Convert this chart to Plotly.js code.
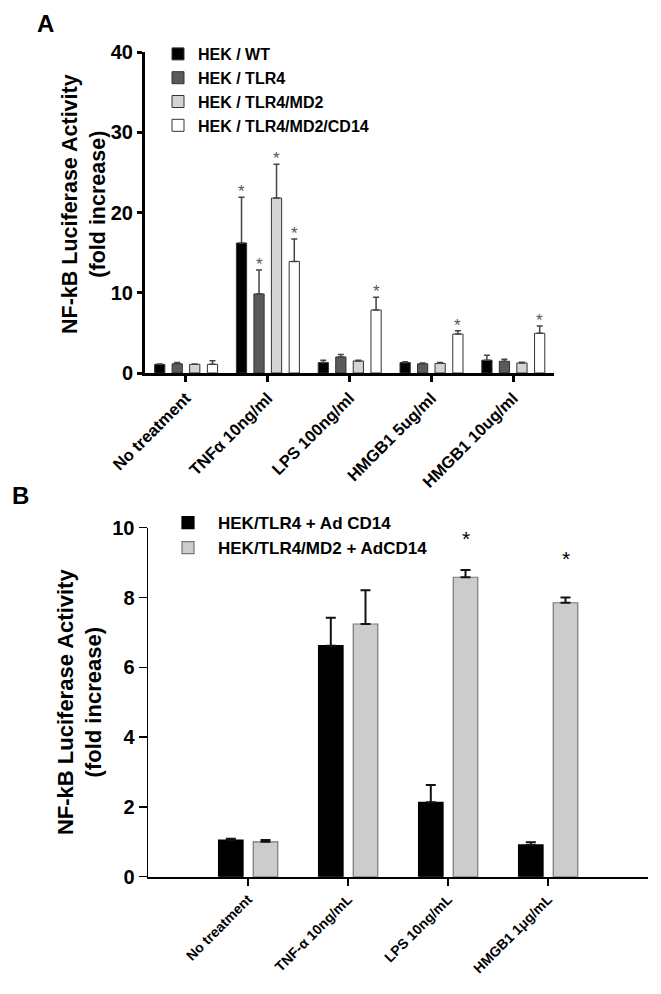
<!DOCTYPE html>
<html>
<head>
<meta charset="utf-8">
<script src="https://cdn.plot.ly/plotly-3.0.1.min.js"></script>
<style>
  html, body { margin: 0; padding: 0; background: #fff; }
  #chart { width: 661px; height: 994px; }
</style>
</head>
<body>
<div id="chart"></div>
<script>
// panel A
const catsA = ["No treatment", "TNFα 10ng/ml", "LPS 100ng/ml", "HMGB1 5ug/ml", "HMGB1 10ug/ml"];
const namesA = ["HEK / WT", "HEK / TLR4", "HEK / TLR4/MD2", "HEK / TLR4/MD2/CD14"];
const wt = [1.08, 16.2, 1.3, 1.3, 1.6];
const wtErr = [0.05, 5.7, 0.3, 0.1, 0.6];
const tlr4 = [1.15, 9.85, 2.0, 1.15, 1.45];
const tlr4Err = [0.15, 3.0, 0.3, 0.1, 0.25];
const md2 = [1.08, 21.8, 1.5, 1.2, 1.25];
const md2Err = [0.05, 4.2, 0.1, 0.1, 0.1];
const cd14 = [1.08, 13.9, 7.85, 4.85, 4.95];
const cd14Err = [0.45, 2.8, 1.6, 0.4, 0.9];
const starsA = [
  [0, 1, 0, 0, 0],
  [0, 1, 0, 0, 0],
  [0, 1, 0, 0, 0],
  [0, 1, 1, 1, 1],
];

// panel B
const catsB = ["No treatment", "TNF-α 10ng/mL", "LPS 10ng/mL", "HMGB1 1μg/mL"];
const namesB = ["HEK/TLR4 + Ad CD14", "HEK/TLR4/MD2 + AdCD14"];
const adCd14 = [1.05, 6.62, 2.13, 0.91];
const adCd14Err = [0.04, 0.8, 0.5, 0.08];
const md2Cd14 = [1.0, 7.24, 8.58, 7.85];
const md2Cd14Err = [0.05, 0.97, 0.21, 0.15];
const starB = [null, null, 9.82, 9.27];

const yTitle = "NF-kB Luciferase Activity<br>(fold increase)";
const FONT = "Liberation Sans, Arial, sans-serif";

const fillA = ["#000000", "#5a5a5a", "#d4d4d4", "#ffffff"];
const centersA = [-0.32, -0.106, 0.108, 0.325];
const widthA = 0.125;
const valsA = [wt, tlr4, md2, cd14];
const errsA = [wtErr, tlr4Err, md2Err, cd14Err];

const traces = [];
const annotations = [];

valsA.forEach((vals, k) => {
  traces.push({
    type: "bar",
    x: catsA,
    y: vals,
    name: namesA[k],
    width: widthA,
    offset: centersA[k] - widthA / 2,
    marker: { color: fillA[k], line: { color: "#333", width: 1 } },
    error_y: {
      type: "data", symmetric: false, array: errsA[k], arrayminus: vals.map(() => 0),
      color: "#444", thickness: 1.5, width: 3,
    },
    xaxis: "x", yaxis: "y",
    legend: "legend",
  });
  starsA[k].forEach((s, i) => {
    if (!s) return;
    annotations.push({
      xref: "x", yref: "y", x: i + centersA[k], y: vals[i] + errsA[k][i],
      text: "*", showarrow: false, yanchor: "bottom", yshift: -6,
      font: { family: FONT, size: 17, color: "#555" },
    });
  });
});

const fillB = ["#000000", "#cccccc"];
const centersB = [-0.172, 0.175];
const widthB = 0.245;
const valsB = [adCd14, md2Cd14];
const errsB = [adCd14Err, md2Cd14Err];

valsB.forEach((vals, k) => {
  traces.push({
    type: "bar",
    x: catsB,
    y: vals,
    name: namesB[k],
    width: widthB,
    offset: centersB[k] - widthB / 2,
    marker: { color: fillB[k], line: { color: k ? "#777" : "#000", width: 1.2 } },
    error_y: {
      type: "data", symmetric: false, array: errsB[k], arrayminus: vals.map(() => 0),
      color: "#111", thickness: 2, width: 5,
    },
    xaxis: "x2", yaxis: "y2",
    legend: "legend2",
  });
});

starB.forEach((y, i) => {
  if (y == null) return;
  annotations.push({
    xref: "x2", yref: "y2", x: i + centersB[1], y: y,
    text: "*", showarrow: false, yanchor: "middle", yshift: -5,
    font: { family: FONT, size: 21, color: "#000" },
  });
});

const bold = (size) => ({ family: FONT, size: size, weight: "bold", color: "#000" });

annotations.push(
  { xref: "paper", yref: "paper", x: 35 / 661, y: 1 - 8 / 994, xanchor: "left", yanchor: "top",
    text: "A", showarrow: false, font: bold(24) },
  { xref: "paper", yref: "paper", x: 10 / 661, y: 1 - 480 / 994, xanchor: "left", yanchor: "top",
    text: "B", showarrow: false, font: bold(24) },
  // panel A y title sits tight against its tick labels
  { xref: "paper", yref: "paper", x: 84 / 661, y: 1 - 204 / 994, xanchor: "center", yanchor: "middle",
    text: yTitle, textangle: -90, showarrow: false, font: bold(21.5) }
);

const layout = {
  width: 661,
  height: 994,
  margin: { l: 0, r: 0, t: 0, b: 0 },
  paper_bgcolor: "#fff",
  plot_bgcolor: "rgba(0,0,0,0)",
  barmode: "group",
  font: { family: FONT, color: "#000" },
  xaxis: {
    domain: [145 / 661, 554 / 661],
    anchor: "y",
    type: "category",
    range: [-0.5, 4.5],
    showline: true, linecolor: "#000", linewidth: 3,
    ticks: "outside", ticklen: 6, tickwidth: 3, tickcolor: "#000",
    tickangle: -45, tickfont: bold(16.5),
    showgrid: false, zeroline: false,
  },
  yaxis: {
    domain: [1 - 373 / 994, 1 - 52 / 994],
    anchor: "x",
    range: [0, 40],
    tickvals: [0, 10, 20, 30, 40],
    showline: true, linecolor: "#000", linewidth: 3,
    ticks: "outside", ticklen: 5, tickwidth: 3, tickcolor: "#000",
    tickfont: bold(20),
    showgrid: false, zeroline: false,
  },
  xaxis2: {
    domain: [148 / 661, 648 / 661],
    anchor: "y2",
    type: "category",
    range: [-1, 4],
    showline: true, linecolor: "#000", linewidth: 2,
    ticks: "outside", ticklen: 7, tickwidth: 2, tickcolor: "#000",
    tickangle: -45, tickfont: bold(14),
    showgrid: false, zeroline: false,
  },
  yaxis2: {
    domain: [1 - 876.7 / 994, 1 - 527.7 / 994],
    anchor: "x2",
    range: [0, 10],
    tickvals: [0, 2, 4, 6, 8, 10],
    showline: true, linecolor: "#000", linewidth: 1.5,
    ticks: "outside", ticklen: 8, tickwidth: 1.5, tickcolor: "#000",
    tickfont: bold(20),
    showgrid: false, zeroline: false,
    title: { text: yTitle, font: bold(22), standoff: 4 },
  },
  legend: {
    x: 158 / 661, y: 1 - 37 / 994, xanchor: "left", yanchor: "top",
    bgcolor: "rgba(0,0,0,0)", font: bold(16), tracegroupgap: 0,
    traceorder: "normal",
  },
  legend2: {
    x: 158 / 661, y: 1 - 505 / 994, xanchor: "left", yanchor: "top",
    bgcolor: "rgba(0,0,0,0)", font: bold(17), itemwidth: 50,
    traceorder: "normal",
  },
  annotations: annotations,
  showlegend: true,
};

Plotly.newPlot("chart", traces, layout, { displayModeBar: false, staticPlot: true });
</script>
</body>
</html>
